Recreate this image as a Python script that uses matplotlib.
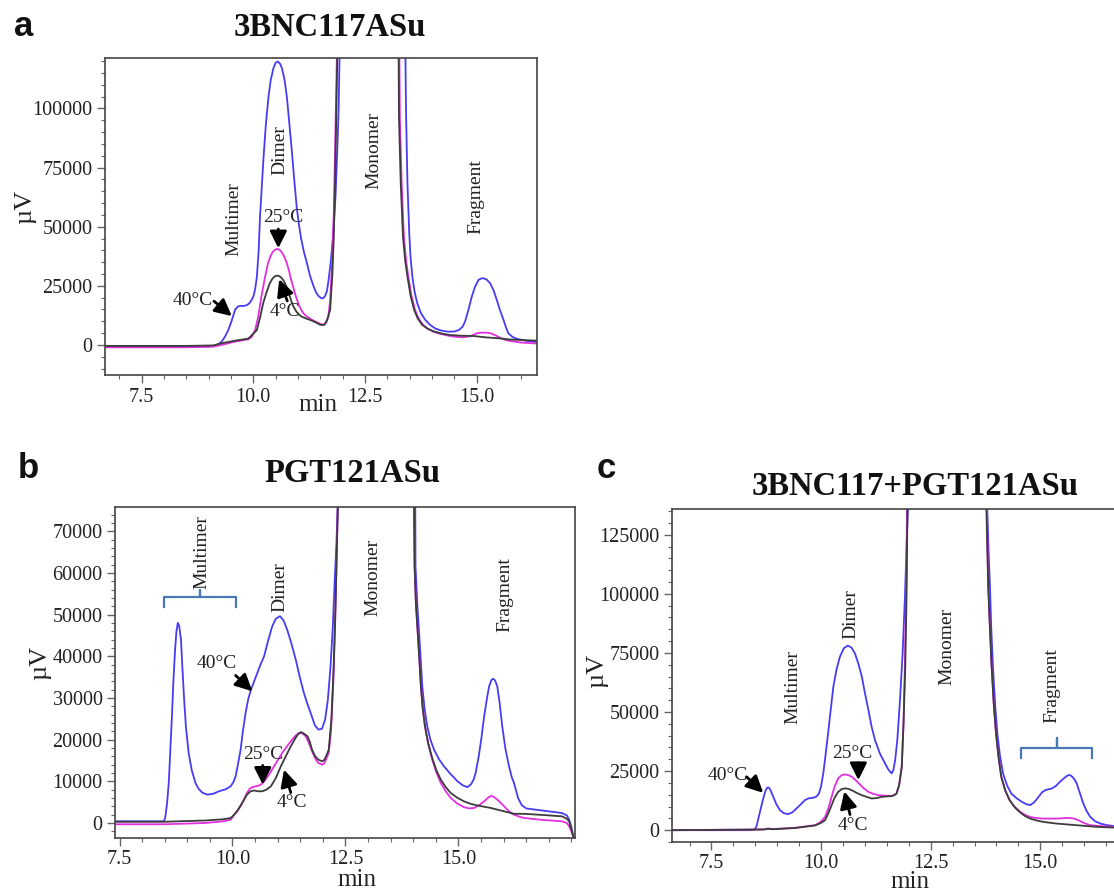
import matplotlib
matplotlib.use('Agg')
import matplotlib.pyplot as plt
from matplotlib.ticker import FixedLocator, MultipleLocator, FormatStrFormatter

plt.rcParams['font.family'] = ['Liberation Serif', 'DejaVu Serif']

# ---- data: (time in min, signal in uV) ----
# panel a : 3BNC117ASu
a_40 = [(6.68, -800), (8.0, -800), (9.0, -700), (9.15, -300), (9.22, 400), (9.29, 1400),
        (9.36, 3300), (9.44, 6300), (9.52, 10500), (9.59, 14800), (9.65, 16200), (9.70, 16500),
        (9.80, 16500), (9.87, 17000), (9.92, 17800), (9.96, 19000), (10.0, 20400), (10.04, 23500),
        (10.08, 28900), (10.12, 40000), (10.15, 54300), (10.19, 67000), (10.23, 79700),
        (10.28, 93000), (10.34, 105000), (10.39, 112000), (10.45, 117000), (10.50, 119300),
        (10.55, 119800), (10.60, 118800), (10.64, 117000), (10.70, 112000), (10.75, 105000),
        (10.80, 95000), (10.86, 82500), (10.92, 69000), (10.97, 58500), (11.02, 51000),
        (11.07, 45000), (11.13, 39500), (11.20, 34600), (11.27, 29200), (11.35, 24700),
        (11.41, 22000), (11.47, 20500), (11.52, 19800), (11.56, 19700), (11.61, 20800),
        (11.65, 23000), (11.68, 26800), (11.73, 34500), (11.79, 47200), (11.84, 63000),
        (11.88, 82500), (11.91, 100000), (11.93, 122000), (11.97, 200000),
        (13.38, 200000), (13.40, 130000), (13.42, 96600), (13.45, 68400), (13.49, 47200),
        (13.52, 37000), (13.56, 28900), (13.61, 22500), (13.67, 17600), (13.75, 13500),
        (13.85, 10600), (13.95, 8600), (14.07, 7000), (14.20, 6100), (14.37, 5600), (14.50, 5700),
        (14.60, 6300), (14.68, 7600), (14.74, 9900), (14.81, 14500), (14.89, 20400),
        (14.96, 24500), (15.04, 27500), (15.10, 28100), (15.15, 28200), (15.22, 27700),
        (15.30, 26100), (15.38, 23000), (15.45, 19000), (15.52, 14800), (15.60, 10600),
        (15.66, 7200), (15.71, 4900), (15.80, 3400), (15.90, 2600), (16.10, 1800), (16.35, 1200)]
a_25 = [(6.68, -1000), (8.5, -1000), (9.1, -700), (9.29, 0), (9.59, 1400), (9.89, 2400),
        (9.97, 3500), (10.04, 6300), (10.11, 12000), (10.18, 20400), (10.26, 28500),
        (10.33, 34600), (10.39, 37800), (10.44, 39500), (10.50, 40400), (10.55, 40600),
        (10.60, 40000), (10.65, 38800), (10.70, 37000), (10.75, 34600), (10.80, 31300),
        (10.84, 28000), (10.89, 24700), (10.93, 21900), (10.98, 19000), (11.03, 16500),
        (11.08, 14600), (11.12, 13400), (11.20, 12000), (11.30, 10800), (11.39, 9900),
        (11.50, 8900), (11.57, 8500), (11.63, 9400), (11.68, 12000), (11.72, 19000),
        (11.76, 33100), (11.80, 55000), (11.83, 82500), (11.87, 122000), (11.90, 200000),
        (13.25, 200000), (13.27, 120000), (13.28, 96600), (13.32, 68400), (13.37, 45800),
        (13.42, 35500), (13.47, 28900), (13.54, 20800), (13.62, 14800), (13.70, 11200),
        (13.80, 8500), (13.90, 6900), (14.03, 5600), (14.20, 4600), (14.40, 3800),
        (14.55, 3400), (14.70, 3200), (14.82, 3600), (14.92, 4200), (15.0, 4900),
        (15.10, 5200), (15.22, 5200), (15.32, 4900), (15.44, 3900), (15.55, 2800),
        (15.65, 2100), (15.74, 1700), (16.0, 1000), (16.35, 600)]
a_4 = [(6.68, -400), (8.5, -400), (9.1, -200), (9.29, 700), (9.59, 1800), (9.89, 2700),
       (10.08, 6300), (10.15, 11500), (10.22, 17600), (10.30, 22500), (10.37, 26100),
       (10.42, 27800), (10.46, 28700), (10.50, 29200), (10.55, 29300), (10.59, 29000),
       (10.63, 28400), (10.67, 27400), (10.71, 26100), (10.76, 23800), (10.80, 21500),
       (10.85, 18600), (10.90, 16200), (10.96, 14200), (11.02, 12900), (11.08, 12000),
       (11.18, 11200), (11.27, 10600), (11.40, 9500), (11.50, 8500), (11.59, 8500),
       (11.65, 10500), (11.72, 14800), (11.77, 30000), (11.80, 45000), (11.83, 68400),
       (11.88, 122000), (11.91, 200000), (13.23, 200000), (13.26, 96600), (13.30, 68400),
       (13.35, 45800), (13.40, 35500), (13.45, 28900), (13.52, 20800), (13.60, 14800),
       (13.68, 11200), (13.78, 8500), (13.90, 6900), (14.03, 5800), (14.20, 4900),
       (14.40, 4200), (14.65, 3900), (14.92, 3800), (15.21, 3200), (15.51, 2800),
       (15.74, 2300), (16.35, 1800)]

# panel b : PGT121ASu
b_40 = [(7.40, 400), (8.48, 400), (8.51, 1200), (8.55, 4500), (8.59, 9600), (8.62, 16500),
        (8.66, 25600), (8.69, 33500), (8.73, 41600), (8.76, 46000), (8.79, 48000),
        (8.82, 47300), (8.86, 44000), (8.89, 37500), (8.93, 29600), (8.97, 23000),
        (9.03, 16800), (9.10, 12600), (9.18, 9600), (9.25, 8200), (9.33, 7300), (9.44, 6800),
        (9.57, 7000), (9.70, 7600), (9.85, 8100), (9.96, 8800), (10.02, 9800), (10.07, 11200),
        (10.12, 14000), (10.18, 17600), (10.23, 22000), (10.29, 26400), (10.35, 29800),
        (10.41, 32000), (10.48, 34000), (10.55, 36000), (10.62, 38000), (10.70, 40000),
        (10.79, 43800), (10.88, 47200), (10.96, 49000), (11.05, 49600), (11.13, 48600),
        (11.21, 46400), (11.30, 43200), (11.40, 39200), (11.49, 35000), (11.58, 31200),
        (11.66, 28500), (11.73, 26400), (11.82, 23500), (11.90, 22400), (11.98, 22600),
        (12.05, 24800), (12.11, 29500), (12.17, 37600), (12.22, 47000), (12.26, 57600),
        (12.30, 67000), (12.33, 76000), (12.36, 150000), (14.02, 150000), (14.05, 61600),
        (14.09, 52500), (14.13, 45600), (14.17, 38500), (14.20, 32800), (14.25, 27500),
        (14.31, 23200), (14.38, 20000), (14.46, 17600), (14.57, 15300), (14.68, 13600),
        (14.83, 11700), (14.98, 10000), (15.10, 9000), (15.20, 8600), (15.28, 9300),
        (15.34, 10500), (15.38, 12000), (15.45, 16000), (15.51, 20500), (15.57, 25600),
        (15.63, 29800), (15.68, 32800), (15.73, 34300), (15.77, 34600), (15.81, 34200),
        (15.86, 32800), (15.91, 29000), (15.97, 23200), (16.04, 17800), (16.12, 13600),
        (16.18, 11000), (16.23, 9600), (16.32, 6000), (16.40, 4300), (16.50, 3500),
        (16.70, 3200), (17.0, 2800), (17.29, 2400), (17.40, 1800), (17.45, 800),
        (17.50, -1000), (17.55, -3600)]
b_25 = [(7.40, -300), (8.5, -300), (9.4, 0), (9.8, 400), (9.96, 800), (10.04, 2000),
        (10.11, 2900), (10.18, 4000), (10.25, 5500), (10.32, 7200), (10.38, 8200),
        (10.44, 8600), (10.52, 8800), (10.59, 9000), (10.66, 9500), (10.73, 10400),
        (10.82, 11800), (10.92, 13600), (11.01, 15200), (11.10, 16800), (11.20, 18300),
        (11.29, 19600), (11.40, 21000), (11.46, 21500), (11.51, 21600), (11.57, 21300),
        (11.62, 20800), (11.69, 19200), (11.76, 17200), (11.83, 15500), (11.90, 14400),
        (11.98, 14000), (12.03, 14300), (12.08, 15500), (12.13, 16800), (12.18, 22000),
        (12.23, 33600), (12.27, 47000), (12.30, 61600), (12.33, 76000), (12.34, 100000),
        (14.00, 100000), (14.03, 61600), (14.06, 52500), (14.10, 45600), (14.14, 38500),
        (14.17, 32800), (14.21, 27500), (14.26, 23200), (14.33, 19000), (14.42, 15200),
        (14.51, 12200), (14.61, 9600), (14.72, 7600), (14.83, 6000), (14.97, 4700),
        (15.12, 3800), (15.24, 3500), (15.35, 3600), (15.46, 4300), (15.57, 5200),
        (15.66, 6100), (15.72, 6500), (15.78, 6300), (15.86, 5600), (15.94, 4800),
        (16.03, 3800), (16.12, 2800), (16.23, 2000), (16.35, 1500), (16.46, 1200),
        (16.80, 800), (17.29, 400), (17.40, 0), (17.45, -800), (17.50, -2000), (17.55, -3600)]
b_4 = [(7.40, 300), (8.5, 300), (9.4, 600), (9.8, 900), (9.96, 1200), (10.04, 2000),
       (10.11, 3000), (10.18, 4200), (10.25, 5500), (10.32, 6800), (10.40, 7600),
       (10.48, 7800), (10.57, 7600), (10.66, 7600), (10.75, 8000), (10.85, 8800),
       (10.96, 10800), (11.07, 13600), (11.18, 16000), (11.29, 18400), (11.40, 20500),
       (11.47, 21500), (11.51, 21800), (11.56, 21600), (11.66, 20800), (11.71, 19500),
       (11.76, 17600), (11.83, 16000), (11.90, 15200), (11.98, 14800), (12.03, 15100),
       (12.08, 16200), (12.13, 17600), (12.19, 25000), (12.24, 37600), (12.28, 52000),
       (12.31, 65600), (12.34, 80000), (12.35, 100000), (14.00, 100000), (14.03, 61600),
       (14.06, 52500), (14.10, 45600), (14.14, 38500), (14.17, 32800), (14.21, 27500),
       (14.26, 23200), (14.33, 19200), (14.42, 15600), (14.51, 12700), (14.61, 10400),
       (14.72, 8600), (14.83, 7200), (14.97, 6100), (15.12, 5200), (15.27, 4600),
       (15.42, 4200), (15.57, 3900), (15.72, 3600), (15.86, 3200), (16.01, 2800),
       (16.23, 2200), (16.46, 2200), (16.90, 1900), (17.29, 1600), (17.40, 1000),
       (17.45, 400), (17.50, -1500), (17.55, -3600)]

# panel c : 3BNC117+PGT121ASu
c_40 = [(6.60, 0), (8.40, 0), (8.49, 300), (8.53, 1800), (8.56, 4200), (8.61, 8000),
        (8.67, 12700), (8.73, 16500), (8.76, 17700), (8.79, 18100), (8.82, 17800),
        (8.85, 16800), (8.91, 14100), (8.98, 11000), (9.06, 8500), (9.15, 7200), (9.25, 6800),
        (9.35, 7600), (9.44, 9200), (9.54, 11000), (9.63, 12700), (9.72, 13500), (9.82, 13700),
        (9.90, 14300), (9.95, 15500), (10.0, 18500), (10.05, 24000), (10.10, 31500),
        (10.16, 41000), (10.22, 51000), (10.28, 60700), (10.35, 67800), (10.43, 73400),
        (10.52, 77000), (10.61, 78100), (10.69, 77300), (10.77, 74900), (10.85, 70500),
        (10.93, 65000), (11.00, 58000), (11.08, 50800), (11.15, 44000), (11.23, 38100),
        (11.34, 32500), (11.46, 28200), (11.54, 25500), (11.61, 24000), (11.65, 25500),
        (11.69, 29700), (11.74, 38500), (11.80, 55100), (11.86, 75000), (11.91, 97500),
        (11.95, 120000), (11.98, 136000), (12.0, 200000), (13.76, 200000), (13.79, 136000),
        (13.82, 118000), (13.85, 104500), (13.88, 86000), (13.92, 69200), (13.97, 53000),
        (14.02, 41000), (14.08, 31500), (14.15, 24000), (14.24, 19000), (14.34, 15500),
        (14.46, 13500), (14.58, 12000), (14.68, 11000), (14.77, 10600), (14.86, 11800),
        (14.96, 14100), (15.04, 16000), (15.11, 16900), (15.18, 17300), (15.26, 17600),
        (15.36, 18800), (15.45, 20500), (15.56, 22300), (15.63, 23200), (15.68, 23300),
        (15.73, 22600), (15.78, 21500), (15.83, 19800), (15.90, 15800), (15.98, 11300),
        (16.06, 8000), (16.14, 5600), (16.25, 3800), (16.37, 2800), (16.50, 2200),
        (16.69, 1700), (17.0, 1400)]
c_25 = [(6.60, 0), (8.7, 300), (8.79, 700), (8.9, 500), (9.4, 1000), (9.86, 2100),
        (9.98, 3300), (10.09, 5600), (10.17, 9500), (10.24, 14100), (10.31, 18500),
        (10.39, 21900), (10.47, 23300), (10.55, 23600), (10.62, 23300), (10.70, 22600),
        (10.78, 21300), (10.86, 19800), (10.97, 17800), (11.08, 16200), (11.20, 15300),
        (11.31, 14800), (11.46, 14600), (11.61, 14500), (11.68, 15000), (11.72, 15500),
        (11.78, 19000), (11.84, 26800), (11.88, 45000), (11.91, 69200), (11.94, 100000),
        (11.96, 136000), (11.99, 200000), (13.75, 200000), (13.78, 136000), (13.81, 104500),
        (13.85, 86000), (13.89, 69200), (13.94, 53000), (13.99, 41000), (14.05, 30500),
        (14.11, 22600), (14.20, 16800), (14.30, 12700), (14.42, 9800), (14.54, 7800),
        (14.65, 6500), (14.77, 5600), (14.92, 5100), (15.07, 4900), (15.37, 4900),
        (15.64, 5200), (15.75, 5000), (15.87, 4200), (16.0, 3000), (16.14, 2100),
        (16.40, 1700), (16.69, 1400), (17.0, 1200)]
c_4 = [(6.60, 0), (8.7, 300), (8.79, 600), (8.9, 400), (9.4, 900), (9.86, 2000),
       (9.98, 2900), (10.09, 4200), (10.17, 7300), (10.24, 10600), (10.31, 13800),
       (10.39, 16200), (10.47, 17400), (10.55, 17700), (10.62, 17500), (10.70, 16900),
       (10.81, 15800), (10.93, 14800), (11.05, 14000), (11.16, 13400), (11.27, 13600),
       (11.38, 14100), (11.50, 14300), (11.61, 14400), (11.68, 14900), (11.72, 15500),
       (11.78, 19000), (11.84, 26800), (11.88, 45000), (11.92, 69200), (11.95, 100000),
       (11.97, 136000), (12.0, 200000), (13.74, 200000), (13.77, 136000), (13.81, 104500),
       (13.85, 86000), (13.89, 69200), (13.94, 53000), (13.99, 41000), (14.05, 30500),
       (14.11, 22600), (14.20, 16800), (14.30, 12700), (14.42, 9600), (14.54, 7500),
       (14.65, 6000), (14.77, 4900), (14.92, 4100), (15.07, 3500), (15.37, 2800),
       (15.83, 2100), (16.29, 1400), (16.69, 1100), (17.0, 1000)]

x_ticks = [7.5, 10.0, 12.5, 15.0]
titles = ['3BNC117ASu', 'PGT121ASu', '3BNC117+PGT121ASu']

blue = '#473cf5'
magenta = '#e22fe0'
grey = '#3c3c3c'
brace = '#4a78b5'
W, H = 1114, 892

fig = plt.figure(figsize=(W / 100, H / 100), dpi=100)


def box(l, r, t, b):
    return [l / W, (H - b) / H, (r - l) / W, (b - t) / H]


def trace(ax, pts, color):
    t, v = zip(*pts)
    ax.plot(t, v, color=color, lw=1.3, solid_joinstyle='round')


def style(ax, xlim, ylim, yticks, yminor):
    ax.set_xlim(*xlim)
    ax.set_ylim(*ylim)
    ax.xaxis.set_major_locator(FixedLocator(x_ticks))
    ax.xaxis.set_minor_locator(MultipleLocator(0.5))
    ax.xaxis.set_major_formatter(FormatStrFormatter('%.1f'))
    ax.yaxis.set_major_locator(FixedLocator(yticks))
    ax.yaxis.set_minor_locator(MultipleLocator(yminor))
    ax.yaxis.set_major_formatter(FormatStrFormatter('%d'))
    ax.tick_params(which='major', direction='out', length=6, width=1, color='#666666',
                   labelsize=14.5, labelcolor='#222222', pad=3)
    ax.tick_params(which='minor', direction='out', length=3, width=0.8, color='#666666')
    for s in ax.spines.values():
        s.set_color('#444444')
        s.set_linewidth(1.2)


def arrow(ax, tail, tip):
    ax.annotate('', xy=tip, xytext=tail,
                arrowprops=dict(arrowstyle='-|>,head_length=0.6,head_width=0.3',
                                color='black', lw=2.0, shrinkA=0, shrinkB=0,
                                mutation_scale=17))


def label(ax, t, v, s, rot=0):
    ax.text(t, v, s, rotation=rot, ha='center', va='center', fontsize=14, color='#222222')


def bracket(ax, t0, t1, vbar, vend, vtop):
    tc = (t0 + t1) / 2
    ax.plot([t0, t0, tc, tc, tc, t1, t1], [vend, vbar, vbar, vtop, vbar, vbar, vend],
            color=brace, lw=1.6, solid_joinstyle='round')


def axis_labels(ax, ylab_xy, xlab_xy):
    ax.text(*ylab_xy, 'µV', transform=ax.transAxes, rotation=90, ha='center', va='center',
            fontsize=19, color='#222222')
    ax.text(*xlab_xy, 'min', transform=ax.transAxes, ha='center', va='center',
            fontsize=18, color='#222222')


# ---- panel a ----
ax = fig.add_axes(box(105, 537, 58, 375))
trace(ax, a_40, blue)
trace(ax, a_25, magenta)
trace(ax, a_4, grey)
style(ax, (6.68, 16.35), (-12700, 121300), [0, 25000, 50000, 75000, 100000], 5000)
label(ax, 9.57, 53300, 'Multimer', 90)
label(ax, 10.59, 82500, 'Dimer', 90)
label(ax, 12.71, 82300, 'Monomer', 90)
label(ax, 14.98, 62600, 'Fragment', 90)
label(ax, 10.67, 53700, '25°C')
arrow(ax, (10.56, 49000), (10.56, 40900))
label(ax, 8.65, 19000, '40°C')
arrow(ax, (9.12, 18500), (9.52, 12200))
label(ax, 10.70, 14000, '4°C')
arrow(ax, (10.76, 18600), (10.58, 27800))
axis_labels(ax, (-0.185, 0.53), (0.493, -0.095))

# ---- panel b ----
ax = fig.add_axes(box(115, 575, 507, 838))
trace(ax, b_40, blue)
trace(ax, b_25, magenta)
trace(ax, b_4, grey)
style(ax, (7.40, 17.58), (-3600, 75800), [0, 10000, 20000, 30000, 40000, 50000, 60000, 70000], 2000)
bracket(ax, 8.49, 10.07, 54100, 51700, 56000)
label(ax, 9.33, 65100, 'Multimer', 90)
label(ax, 11.04, 56500, 'Dimer', 90)
label(ax, 13.10, 58900, 'Monomer', 90)
label(ax, 16.02, 54800, 'Fragment', 90)
label(ax, 9.66, 38200, '40°C')
arrow(ax, (10.07, 35400), (10.44, 31600))
label(ax, 10.69, 16500, '25°C')
arrow(ax, (10.67, 13800), (10.67, 9200))
label(ax, 11.31, 4900, '4°C')
arrow(ax, (11.29, 7300), (11.14, 12800))
axis_labels(ax, (-0.163, 0.53), (0.526, -0.126))

# ---- panel c (right side cut by the figure edge) ----
ax = fig.add_axes(box(672, 1128, 509, 842))
trace(ax, c_40, blue)
trace(ax, c_25, magenta)
trace(ax, c_4, grey)
style(ax, (6.60, 17.0), (-5000, 135900), [0, 25000, 50000, 75000, 100000, 125000], 5000)
bracket(ax, 14.56, 16.19, 34600, 30400, 38900)
label(ax, 9.36, 60400, 'Multimer', 90)
label(ax, 10.67, 91500, 'Dimer', 90)
label(ax, 12.86, 77700, 'Monomer', 90)
label(ax, 15.26, 61000, 'Fragment', 90)
label(ax, 7.87, 23300, '40°C')
arrow(ax, (8.30, 22600), (8.68, 15800))
label(ax, 10.72, 32600, '25°C')
arrow(ax, (10.85, 28600), (10.85, 21200))
label(ax, 10.73, 2100, '4°C')
arrow(ax, (10.66, 6600), (10.53, 16400))
axis_labels(ax, (-0.165, 0.515), (0.522, -0.121))

# ---- titles and panel letters ----
for (x, y), s in zip([(330, 28), (352, 473), (915, 487)], titles):
    fig.text(x / W, 1 - y / H, s, ha='center', va='center', fontsize=23.5, fontweight='bold',
             color='#111111')
for (x, y), s in zip([(24, 27), (28, 469), (606, 469)], ['a', 'b', 'c']):
    fig.text(x / W, 1 - y / H, s, ha='center', va='center', fontsize=25, fontweight='bold',
             family='Liberation Sans', color='#111111')

fig.savefig('out.png', dpi=100)
